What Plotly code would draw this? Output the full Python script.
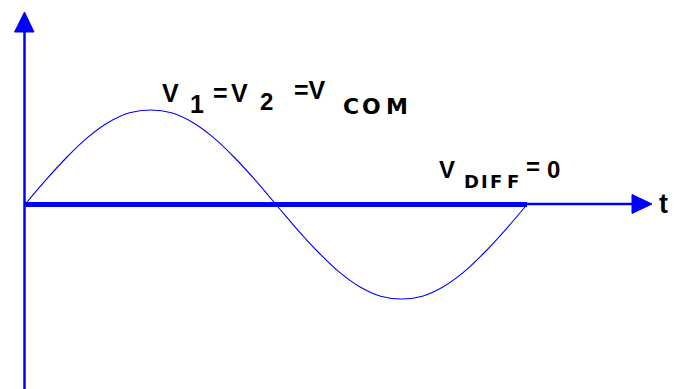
import plotly.graph_objects as go

# ---- data ----
t_deg = [0, 15, 30, 45, 60, 75, 90, 105, 120, 135, 150, 165, 180,
         195, 210, 225, 240, 255, 270, 285, 300, 315, 330, 345, 360]
v_com = [0.00, 0.26, 0.50, 0.71, 0.87, 0.97, 1.00, 0.97, 0.87, 0.71, 0.50, 0.26, 0.00,
         -0.26, -0.50, -0.71, -0.87, -0.97, -1.00, -0.97, -0.87, -0.71, -0.50, -0.26, 0.00]
v_diff = [0.0] * len(t_deg)

W, H = 679, 389
BLUE = "#0000FF"

# pixel <-> data mapping helpers (for layout only)
X0PX, XSPAN = 25.0, 502.0     # px where t=0, px per 360 deg
Y0PX, AMP = 204.5, 94.5       # px of zero level, px per unit


def px2x(px):
    return (px - X0PX) * 360.0 / XSPAN


def px2y(py):
    return (Y0PX - py) / AMP


fig = go.Figure()

# common-mode sine
fig.add_trace(go.Scatter(x=t_deg, y=v_com, mode="lines",
                         line=dict(color=BLUE, width=1.1, shape="spline"),
                         hoverinfo="skip", showlegend=False))
# differential (zero) thick line
fig.add_trace(go.Scatter(x=t_deg, y=v_diff, mode="lines",
                         line=dict(color=BLUE, width=5),
                         hoverinfo="skip", showlegend=False))

shapes = []
# vertical axis line
shapes.append(dict(type="line", xref="x", yref="y",
                   x0=px2x(24.5), x1=px2x(24.5), y0=px2y(395), y1=px2y(30),
                   line=dict(color=BLUE, width=2.5)))
# vertical arrow head
shapes.append(dict(type="path", xref="x", yref="y",
                   path=f"M{px2x(24.5)},{px2y(12)} L{px2x(14.5)},{px2y(32)} L{px2x(34)},{px2y(32)} Z",
                   fillcolor=BLUE, line=dict(color=BLUE, width=1)))
# horizontal axis line
shapes.append(dict(type="line", xref="x", yref="y",
                   x0=px2x(24), x1=px2x(636), y0=px2y(204), y1=px2y(204),
                   line=dict(color=BLUE, width=2.5)))
# horizontal arrow head
shapes.append(dict(type="path", xref="x", yref="y",
                   path=f"M{px2x(652)},{px2y(204)} L{px2x(632)},{px2y(194.5)} L{px2x(632)},{px2y(213.5)} Z",
                   fillcolor=BLUE, line=dict(color=BLUE, width=1)))

MAIN_FONT = "Liberation Sans, Arial, sans-serif"
WIDE_FONT = "DejaVu Sans, Verdana, sans-serif"
annotations = []


def txt(s, left_px, center_py, size, family=MAIN_FONT):
    annotations.append(dict(text=f"<b>{s}</b>", x=px2x(left_px), y=px2y(center_py),
                            xref="x", yref="y", xanchor="left", yanchor="middle",
                            showarrow=False, borderpad=0,
                            font=dict(family=family, size=size, color="black")))


# V1 = V2 = VCOM label
txt("V", 161, 93, 25)
txt("1", 189, 104, 25)
txt("=", 212, 93, 25)
txt("V", 230, 93, 25)
txt("2", 259, 101.5, 24)
txt("=V", 293, 90, 25)
txt("C", 342, 106.5, 22, WIDE_FONT)
txt("O", 361, 106.5, 22, WIDE_FONT)
txt("M", 385, 106.5, 22, WIDE_FONT)
# VDIFF = 0 label
txt("V", 438, 169, 24)
txt("D", 463, 181, 18, WIDE_FONT)
txt("I", 480, 181, 18, WIDE_FONT)
txt("F", 489, 181, 18, WIDE_FONT)
txt("F", 506, 181, 18, WIDE_FONT)
txt("=", 525, 166.5, 24)
txt("0", 546, 169, 24)
# t axis label
txt("t", 658, 204, 27)

fig.update_layout(
    width=W, height=H, autosize=False,
    margin=dict(l=0, r=0, t=0, b=0),
    paper_bgcolor="white", plot_bgcolor="white",
    xaxis=dict(range=[px2x(0), px2x(W)], visible=False, fixedrange=True),
    yaxis=dict(range=[px2y(H), px2y(0)], visible=False, fixedrange=True),
    shapes=shapes, annotations=annotations, showlegend=False,
)

fig.write_html("out.html", config={"displayModeBar": False},
               post_script="document.body.style.margin='0';document.body.style.overflow='hidden';")
